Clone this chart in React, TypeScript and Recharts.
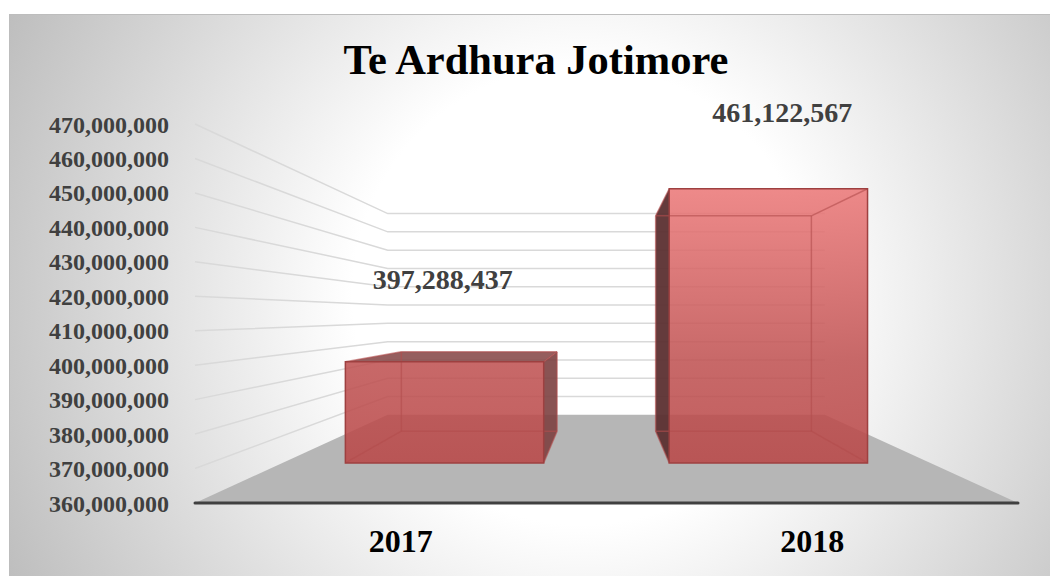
import React from "react";
import { BarChart, Bar, XAxis, YAxis, ReferenceLine, LabelList } from "recharts";

const years = ["2017", "2018"];
const revenues = [397288437, 461122567];
const yTicks = [360000000, 370000000, 380000000, 390000000, 400000000, 410000000, 420000000, 430000000, 440000000, 450000000, 460000000, 470000000];
const chartTitle = "Te Ardhura Jotimore";

const tableData = years.map((year, i) => ({ year, value: revenues[i] }));

const SERIF = "'Liberation Serif', serif";
const VX = 606;
const VY = 315;
const K_WALL = 0.531;
const K_FRONT = 0.787;
const K_BACK = 0.618;
const RIGHT_EDGE = 1018;

const fmt = (v: number) => Number(v).toLocaleString("en-US");
const proj = (x: number, y: number, k: number): [number, number] => [VX + (x - VX) * k, VY + (y - VY) * k];
const pts = (list: [number, number][]) => list.map((p) => `${p[0]},${p[1]}`).join(" ");

const GridShape = (props: any) => {
  const { x1, y1 } = props;
  const a = proj(x1, y1, K_WALL);
  const b = proj(RIGHT_EDGE, y1, K_WALL);
  return <polyline points={pts([[x1, y1], a, b])} fill="none" stroke="#d9d9d9" strokeWidth={1.5} />;
};

const FloorShape = (props: any) => {
  const { x1, y1 } = props;
  return (
    <polygon
      points={pts([[x1, y1], proj(x1, y1, K_WALL), proj(RIGHT_EDGE, y1, K_WALL), [RIGHT_EDGE, y1]])}
      fill="#b6b6b6"
    />
  );
};

const Box = (props: any) => {
  const { x, y, width, height } = props;
  const r = x + width;
  const b = y + height;
  const fTL = proj(x, y, K_FRONT);
  const fTR = proj(r, y, K_FRONT);
  const fBL = proj(x, b, K_FRONT);
  const fBR = proj(r, b, K_FRONT);
  const bTL = proj(x, y, K_BACK);
  const bTR = proj(r, y, K_BACK);
  const bBL = proj(x, b, K_BACK);
  const bBR = proj(r, b, K_BACK);
  const edge = "#b24c4c";
  const seg = (p: [number, number], q: [number, number], i: number) => (
    <line key={i} x1={p[0]} y1={p[1]} x2={q[0]} y2={q[1]} stroke={edge} strokeOpacity={0.6} strokeWidth={1.5} />
  );
  return (
    <g>
      {bTL[0] < fTL[0] && <polygon points={pts([fTL, bTL, bBL, fBL])} fill="#5c3031" fillOpacity={0.95} />}
      {bTR[0] > fTR[0] && <polygon points={pts([fTR, bTR, bBR, fBR])} fill="#7c4040" fillOpacity={0.9} />}
      {bTL[1] < fTL[1] && <polygon points={pts([fTL, bTL, bTR, fTR])} fill="#8a4c4c" fillOpacity={0.9} />}
      <polygon points={pts([fTL, fTR, fBR, fBL])} fill="url(#boxFill)" />
      {seg(bTL, bTR, 0)}
      {seg(bTR, bBR, 1)}
      {seg(bBR, bBL, 2)}
      {seg(bBL, bTL, 3)}
      {seg(fTL, bTL, 4)}
      {seg(fTR, bTR, 5)}
      {seg(fBR, bBR, 6)}
      {seg(fBL, bBL, 7)}
      <polygon points={pts([fTL, fTR, fBR, fBL])} fill="none" stroke="#9e4040" strokeWidth={1.5} />
    </g>
  );
};

const labelShift = [
  { dx: 42, dy: -86 },
  { dx: -30, dy: -33 },
];

const ValueLabel = (props: any) => {
  const { x, y, width, value, index } = props;
  const s = labelShift[index];
  return (
    <text x={x + width / 2 + s.dx} y={y + s.dy} textAnchor="middle" fontFamily={SERIF} fontWeight="bold" fontSize={28} fill="#404040">
      {fmt(value)}
    </text>
  );
};

export default function App() {
  return (
    <div style={{ position: "absolute", left: 0, top: 0, width: 1050, height: 576, overflow: "hidden", background: "#fff" }}>
      <div
        style={{
          position: "absolute",
          left: 9,
          top: 14,
          width: 1041,
          height: 562,
          boxSizing: "border-box",
          borderTop: "1px solid #bdbdbd",
          borderLeft: "1px solid #bdbdbd",
          background: "radial-gradient(circle farthest-corner at 55% 50%, #ffffff 36%, #bebebe 100%)",
        }}
      />
      <div style={{ position: "absolute", left: 0, top: 0 }}>
        <BarChart
          width={1050}
          height={576}
          data={tableData}
          margin={{ top: 124, right: 32, bottom: 0, left: 0 }}
          barCategoryGap="19.4%"
        >
          <defs>
            <linearGradient id="boxFill" gradientUnits="userSpaceOnUse" x1="0" y1="187" x2="0" y2="463">
              <stop offset="0%" stopColor="#ec7a7a" stopOpacity={0.88} />
              <stop offset="63%" stopColor="#c05454" stopOpacity={0.88} />
              <stop offset="100%" stopColor="#b94848" stopOpacity={0.88} />
            </linearGradient>
          </defs>
          <text x={536} y={74} textAnchor="middle" fontFamily={SERIF} fontWeight="bold" fontSize={42.5} fill="#000000">
            {chartTitle}
          </text>
          <XAxis
            dataKey="year"
            height={73}
            axisLine={{ stroke: "#404040", strokeWidth: 3, strokeLinecap: "round" }}
            tickLine={false}
            tickSize={0}
            tickMargin={26}
            tick={{ fontFamily: SERIF, fontWeight: "bold", fontSize: 32, fill: "#000000" }}
          />
          <YAxis
            width={195}
            domain={[360000000, 470000000]}
            ticks={yTicks}
            interval={0}
            tickFormatter={fmt}
            axisLine={false}
            tickLine={false}
            tickSize={0}
            tickMargin={26}
            tick={{ fontFamily: SERIF, fontWeight: "bold", fontSize: 24, fill: "#404040" }}
          />
          {yTicks.slice(1).map((t) => (
            <ReferenceLine key={t} y={t} shape={GridShape} zIndex={90} />
          ))}
          <ReferenceLine y={yTicks[0]} shape={FloorShape} zIndex={95} />
          <Bar dataKey="value" shape={Box} isAnimationActive={false} zIndex={300}>
            <LabelList dataKey="value" content={ValueLabel} />
          </Bar>
        </BarChart>
      </div>
    </div>
  );
}
